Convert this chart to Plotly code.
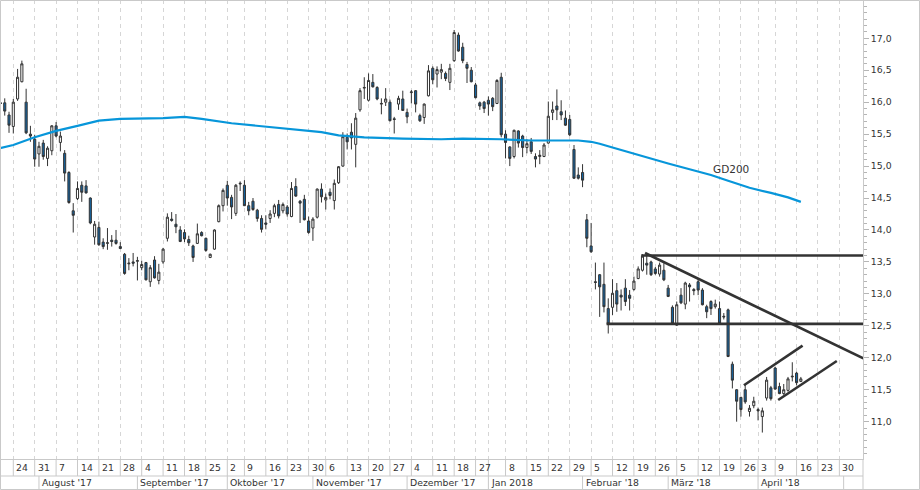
import pandas as pd
import plotly.graph_objects as go

# ---------------- data ----------------
holidays = pd.to_datetime(["2017-10-03", "2017-10-31", "2017-12-25", "2017-12-26",
                           "2018-01-01", "2018-03-30", "2018-04-02", "2018-05-01"])
calendar = [d for d in pd.bdate_range("2017-07-19", "2018-05-04") if d not in holidays]

opens = [15.99, 15.99, 15.80, 15.62, 16.05, 16.32, 16.00, 15.50, 15.42, 15.19,
         15.36, 15.12, 15.24, 15.63, 15.37, 15.20, 14.90, 14.30, 14.49, 14.70,
         14.69, 14.50, 13.89, 14.04, 13.81, 13.79, 13.84, 13.84, 13.74, 13.62,
         13.47, 13.50, 13.51, 13.41, 13.49, 13.19, 13.53, 13.21, 13.50, 13.87,
         14.17, 14.09, 14.00, 13.96, 13.85, 13.75, 13.79, 13.96, 13.87, 13.57,
         13.70, 14.13, 14.38, 14.70, 14.51, 14.26, 14.72, 14.70, 14.38, 14.45,
         14.31, 14.18, 14.11, 14.18, 14.26, 14.40, 14.30, 14.36, 14.21, 14.68,
         14.45, 14.48, 14.14, 14.03, 14.20, 14.64, 14.47, 14.59, 14.46, 14.74,
         15.00, 15.45, 15.53, 15.34, 15.88, 16.22, 16.03, 16.31, 16.23, 15.97,
         16.00, 16.00, 15.74, 15.97, 16.05, 15.84, 16.15, 16.18, 15.79, 15.76,
         16.10, 16.53, 16.44, 16.47, 16.45, 16.31, 16.65, 17.05, 16.86, 16.59,
         16.50, 16.27, 15.99, 16.00, 16.03, 16.06, 15.98, 16.39, 15.50, 15.30,
         15.15, 15.55, 15.47, 15.29, 15.38, 15.15, 15.15, 15.15, 15.36, 15.84,
         15.94, 15.85, 15.75, 15.73, 15.26, 14.86, 14.90, 14.16, 13.75, 13.19,
         13.30, 13.15, 12.77, 12.79, 13.05, 12.98, 13.09, 12.98, 13.07, 13.24,
         13.37, 13.48, 13.50, 13.39, 13.31, 13.37, 13.09, 12.79, 12.51, 12.98,
         12.84, 13.14, 13.07, 13.19, 13.06, 12.80, 12.88, 12.80, 12.77, 12.65,
         12.75, 11.90, 11.50, 11.38, 11.50, 11.16, 11.25, 11.19, 11.08, 11.37,
         11.53, 11.84, 11.55, 11.44, 11.49, 11.70, 11.76, 11.63]
highs = [16.05, 16.06, 15.85, 16.05, 16.52, 16.65, 16.21, 15.63, 15.49, 15.38,
         15.41, 15.31, 15.64, 15.69, 15.54, 15.25, 14.92, 14.42, 14.76, 14.76,
         14.78, 14.51, 14.14, 14.13, 13.87, 14.03, 13.92, 14.00, 13.81, 13.64,
         13.56, 13.64, 13.58, 13.52, 13.50, 13.45, 13.59, 13.47, 13.72, 14.26,
         14.28, 14.25, 14.06, 14.01, 13.91, 13.77, 14.10, 13.98, 13.88, 13.63,
         14.01, 14.40, 14.65, 14.77, 14.55, 14.72, 14.76, 14.78, 14.44, 14.50,
         14.33, 14.23, 14.23, 14.31, 14.41, 14.47, 14.43, 14.39, 14.75, 14.81,
         14.47, 14.55, 14.21, 14.20, 14.65, 14.73, 14.57, 14.65, 14.79, 15.00,
         15.53, 15.51, 15.67, 15.83, 16.22, 16.39, 16.45, 16.44, 16.25, 16.06,
         16.22, 16.04, 15.77, 16.10, 16.18, 15.90, 16.19, 16.19, 15.82, 15.98,
         16.58, 16.56, 16.56, 16.60, 16.48, 16.60, 17.13, 17.09, 16.93, 16.63,
         16.55, 16.30, 16.01, 16.02, 16.09, 16.08, 16.36, 16.46, 15.56, 15.31,
         15.57, 15.56, 15.49, 15.42, 15.44, 15.20, 15.25, 15.36, 16.01, 16.01,
         16.20, 16.03, 15.87, 15.80, 15.33, 14.98, 15.03, 14.25, 14.11, 13.49,
         13.31, 13.49, 12.93, 13.23, 13.17, 13.07, 13.23, 13.06, 13.27, 13.43,
         13.62, 13.64, 13.52, 13.42, 13.49, 13.48, 13.14, 12.82, 12.88, 13.09,
         13.19, 13.17, 13.09, 13.24, 13.09, 12.83, 12.90, 12.91, 12.88, 12.70,
         12.77, 11.94, 11.51, 11.39, 11.59, 11.26, 11.39, 11.22, 11.22, 11.70,
         11.56, 11.86, 11.61, 11.59, 11.70, 11.93, 11.78, 11.70]
lows = [15.96, 15.79, 15.52, 15.51, 16.02, 16.31, 15.50, 15.38, 14.99, 14.99,
        15.10, 15.00, 15.17, 15.45, 15.23, 14.76, 14.41, 13.96, 14.47, 14.44,
        14.57, 14.09, 13.77, 13.75, 13.70, 13.69, 13.74, 13.77, 13.70, 13.30,
        13.37, 13.43, 13.21, 13.37, 13.21, 13.11, 13.24, 13.15, 13.47, 13.82,
        14.13, 13.95, 13.81, 13.81, 13.75, 13.50, 13.78, 13.90, 13.66, 13.56,
        13.69, 14.12, 14.29, 14.38, 14.17, 14.22, 14.61, 14.38, 14.23, 14.30,
        14.13, 13.96, 14.01, 14.11, 14.20, 14.18, 14.26, 14.21, 14.20, 14.52,
        14.11, 14.15, 13.94, 13.83, 14.18, 14.43, 14.32, 14.48, 14.32, 14.72,
        14.99, 15.26, 15.26, 14.98, 15.85, 16.05, 16.01, 16.23, 16.03, 15.81,
        15.94, 15.70, 15.51, 15.88, 15.87, 15.67, 15.98, 15.84, 15.69, 15.66,
        16.09, 16.28, 16.23, 16.36, 16.33, 16.19, 16.63, 16.79, 16.61, 16.30,
        16.31, 16.06, 15.88, 15.83, 15.79, 15.86, 15.97, 15.45, 15.12, 15.00,
        15.12, 15.29, 15.14, 15.20, 15.19, 14.98, 15.03, 15.14, 15.35, 15.72,
        15.72, 15.72, 15.63, 15.47, 14.80, 14.79, 14.67, 13.73, 13.64, 13.07,
        12.64, 12.71, 12.38, 12.67, 12.72, 12.74, 12.81, 12.74, 13.05, 13.23,
        13.35, 13.30, 13.28, 13.30, 13.27, 13.20, 12.95, 12.52, 12.50, 12.84,
        12.76, 12.88, 12.98, 12.98, 12.82, 12.62, 12.67, 12.77, 12.53, 12.60,
        12.01, 11.52, 11.00, 11.08, 11.28, 11.08, 11.21, 11.02, 10.83, 11.33,
        11.33, 11.50, 11.43, 11.42, 11.47, 11.63, 11.57, 11.62]
closes = [15.98, 15.86, 15.64, 16.00, 16.39, 16.60, 15.52, 15.47, 15.11, 15.31,
          15.15, 15.28, 15.63, 15.47, 15.47, 14.89, 14.43, 14.23, 14.65, 14.59,
          14.58, 14.11, 14.09, 13.77, 13.74, 13.80, 13.82, 13.79, 13.71, 13.32,
          13.48, 13.48, 13.52, 13.46, 13.22, 13.41, 13.25, 13.34, 13.70, 14.20,
          14.15, 14.05, 13.82, 13.86, 13.80, 13.57, 13.94, 13.91, 13.68, 13.62,
          14.00, 14.38, 14.62, 14.50, 14.36, 14.70, 14.73, 14.38, 14.30, 14.32,
          14.18, 14.01, 14.09, 14.25, 14.38, 14.22, 14.40, 14.25, 14.65, 14.53,
          14.42, 14.16, 13.96, 14.17, 14.64, 14.52, 14.51, 14.54, 14.73, 14.99,
          15.46, 15.38, 15.44, 15.75, 16.18, 16.23, 16.34, 16.24, 16.05, 15.98,
          16.05, 15.71, 15.73, 16.06, 15.87, 15.77, 16.16, 15.97, 15.71, 15.97,
          16.49, 16.35, 16.51, 16.51, 16.37, 16.53, 17.09, 16.80, 16.65, 16.53,
          16.32, 16.07, 15.94, 15.90, 15.97, 15.93, 16.34, 15.49, 15.37, 15.12,
          15.56, 15.36, 15.29, 15.35, 15.23, 15.11, 15.17, 15.33, 15.78, 15.88,
          15.88, 15.80, 15.64, 15.49, 14.81, 14.81, 14.78, 13.87, 13.66, 13.18,
          13.11, 12.80, 12.53, 13.01, 12.84, 12.95, 12.88, 12.93, 13.20, 13.39,
          13.59, 13.45, 13.30, 13.32, 13.45, 13.22, 12.96, 12.54, 12.83, 12.86,
          13.17, 13.11, 13.05, 13.06, 12.83, 12.72, 12.77, 12.84, 12.54, 12.64,
          12.02, 11.65, 11.32, 11.19, 11.31, 11.21, 11.32, 11.17, 11.17, 11.65,
          11.36, 11.51, 11.44, 11.50, 11.67, 11.71, 11.61, 11.67]

dates = calendar[:len(opens)]

# 200-day average at trading-day positions
gd200_pos = [-0.1, 3, 8, 13, 18, 23, 28, 38, 43, 47, 54, 61, 68, 75, 79, 82, 85,
             94, 103, 108, 117, 124, 135, 138, 140, 143, 147, 152, 156, 161, 166,
             170, 175, 180, 184, 187]
gd200_val = [15.28, 15.33, 15.45, 15.55, 15.63, 15.71, 15.74, 15.75, 15.77, 15.74,
             15.67, 15.62, 15.58, 15.53, 15.48, 15.46, 15.45, 15.43, 15.42, 15.43,
             15.42, 15.40, 15.40, 15.38, 15.35, 15.29, 15.21, 15.12, 15.04, 14.95,
             14.86, 14.77, 14.66, 14.58, 14.51, 14.44]

# drawn trend lines (x in trading-day positions, y in price)
trend_lines = [
    ([149.7, 202.0], [13.60, 13.60]),
    ([141.6, 202.0], [12.53, 12.53]),
    ([150.6, 201.6], [13.64, 11.99]),
    ([173.7, 187.4], [11.57, 12.19]),
    ([181.7, 195.4], [11.34, 11.95]),
]

month_labels = ["August '17", "September '17", "Oktober '17", "November '17",
                "Dezember '17", "Jan 2018", "Februar '18", "März '18", "April '18", ""]
y_ticks = [11.0, 11.5, 12.0, 12.5, 13.0, 13.5, 14.0, 14.5, 15.0, 15.5, 16.0, 16.5, 17.0]

# ---------------- derived positions ----------------
pos = {d: i for i, d in enumerate(calendar)}
x = [pos[d] for d in dates]

week_ticks, seen = [], set()
for d in calendar:
    k = d.isocalendar()[:2]
    if k not in seen:
        seen.add(k)
        if pos[d] > 0:
            week_ticks.append(d)
month_starts, seen_m = [], set()
for d in calendar:
    k = (d.year, d.month)
    if k not in seen_m:
        seen_m.add(k)
        if pos[d] > 0:
            month_starts.append(d)

FONT = "DejaVu Sans"
TXT = "#333333"
GRIDC = "#c9c9c9"
W, H = 920, 490
ML, MR, MT, MB = 0, 57, 0, 31
PW, PH = W - ML - MR, H - MT - MB


def py(p):  # pixel row -> paper y
    return (PH - p) / PH


def px(p):  # pixel col -> paper x
    return p / PW


fig = go.Figure()
fig.add_trace(go.Candlestick(
    x=x, open=opens, high=highs, low=lows, close=closes,
    increasing=dict(line=dict(color="#333333", width=1), fillcolor="#ffffff"),
    decreasing=dict(line=dict(color="#333333", width=1), fillcolor="#15639f"),
    whiskerwidth=0, showlegend=False, hoverinfo="skip"))
fig.add_trace(go.Scatter(x=gd200_pos, y=gd200_val, mode="lines",
                         line=dict(color="#0796da", width=2.2), showlegend=False,
                         hoverinfo="skip"))
for xs, ys in trend_lines:
    fig.add_trace(go.Scatter(x=xs, y=ys, mode="lines",
                             line=dict(color="#333333", width=2.6),
                             showlegend=False, hoverinfo="skip"))

shapes = []
annotations = []
for d in week_ticks:
    shapes.append(dict(type="line", xref="x", yref="paper", x0=pos[d], x1=pos[d],
                       y0=py(459), y1=py(476), line=dict(color=GRIDC, width=1)))
    if not (d.month == 1 and d.day == 2):
        annotations.append(dict(x=pos[d], y=py(467.5), xref="x", yref="paper",
                                text=str(d.day), showarrow=False, xanchor="left",
                                yanchor="middle", xshift=1,
                                font=dict(family=FONT, size=9.3, color=TXT)))
for d, lab in zip(month_starts, month_labels):
    shapes.append(dict(type="line", xref="x", yref="paper", x0=pos[d], x1=pos[d],
                       y0=py(476), y1=py(489.5), line=dict(color=GRIDC, width=1)))
    if lab:
        annotations.append(dict(x=pos[d], y=py(482.8), xref="x", yref="paper",
                                text=lab, showarrow=False, xanchor="left",
                                yanchor="middle", xshift=1,
                                font=dict(family=FONT, size=9.3, color=TXT)))
# row separators, right axis extension, outer frame
shapes.append(dict(type="line", xref="paper", yref="paper", x0=0, x1=1,
                   y0=py(476), y1=py(476), line=dict(color=GRIDC, width=1)))
shapes.append(dict(type="line", xref="paper", yref="paper", x0=1, x1=1,
                   y0=py(459), y1=py(489.5), line=dict(color=GRIDC, width=1)))
shapes.append(dict(type="rect", xref="paper", yref="paper", x0=px(0.5), x1=px(919.5),
                   y0=py(489.5), y1=py(0.5), line=dict(color=GRIDC, width=1)))

annotations.append(dict(x=165.9, y=14.96, xref="x", yref="y", text="GD200",
                        showarrow=False, xanchor="left", yanchor="middle",
                        font=dict(family=FONT, size=10.5, color=TXT)))

fig.update_layout(
    width=W, height=H, margin=dict(l=ML, r=MR, t=MT, b=MB),
    paper_bgcolor="white", plot_bgcolor="white",
    font=dict(family=FONT, size=9.3, color=TXT),
    shapes=shapes, annotations=annotations, showlegend=False,
    xaxis=dict(range=[-0.107, 201.52], rangeslider=dict(visible=False),
               tickvals=[pos[d] for d in week_ticks], showticklabels=False,
               ticks="", showgrid=True, gridcolor="#d6d6d6", gridwidth=1,
               griddash="4px,4px", zeroline=False, showline=True,
               linecolor=GRIDC, linewidth=1, mirror=True, fixedrange=True),
    yaxis=dict(side="right", range=[10.416, 17.599], tickvals=y_ticks,
               ticktext=[f"{v:.1f}".replace(".", ",") for v in y_ticks],
               ticks="outside", ticklen=5, tickcolor="#b5b5b5", showgrid=False,
               zeroline=False, showline=True, linecolor=GRIDC, linewidth=1,
               minor=dict(dtick=0.1, tick0=0, ticks="outside", ticklen=3,
                          tickcolor="#b5b5b5", showgrid=False),
               tickfont=dict(family=FONT, size=9.3, color=TXT), fixedrange=True),
)

fig.write_html("out.html", config={"displayModeBar": False})
